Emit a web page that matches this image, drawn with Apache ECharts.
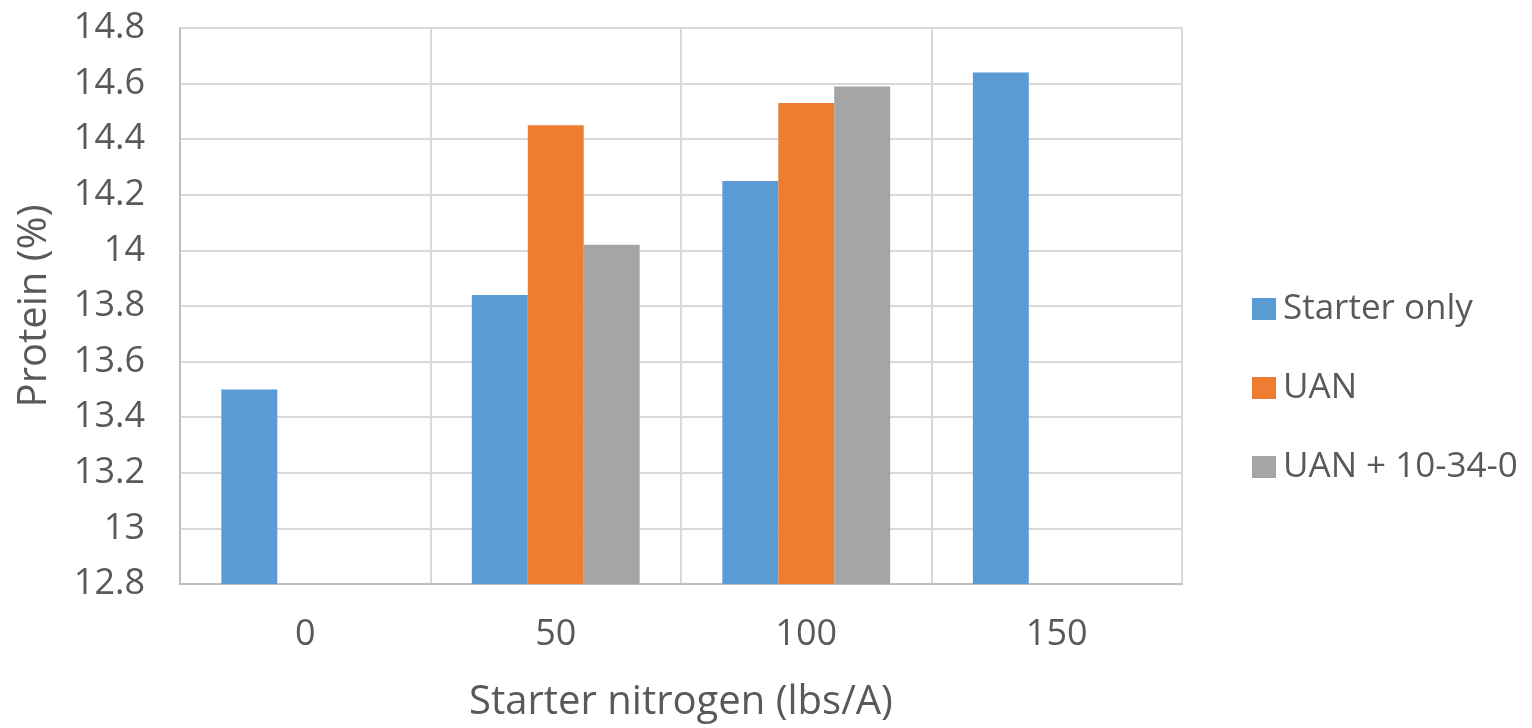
<!DOCTYPE html>
<html>
<head>
<meta charset="utf-8">
<script src="https://cdn.jsdelivr.net/npm/echarts@6/dist/echarts.min.js"></script>
<style>
html,body{margin:0;padding:0;background:#fff;}
#chart{width:1532px;height:728px;}
</style>
</head>
<body>
<div id="chart"></div>
<script>
const categories = ['0', '50', '100', '150'];
const starterOnly = [13.5, 13.84, 14.25, 14.64];
const uan = [null, 14.45, 14.53, null];
const uan1034 = [null, 14.02, 14.59, null];
const seriesNames = ['Starter only', 'UAN', 'UAN + 10-34-0'];
const colors = ['#5b9bd5', '#ed7d31', '#a5a5a5'];

const font = 'Open Sans';
const textColor = '#595959';

const chart = echarts.init(document.getElementById('chart'));
chart.setOption({
  animation: false,
  color: colors,
  grid: { left: 180, right: 350, top: 28, bottom: 142, containLabel: false },
  legend: {
    orient: 'vertical',
    left: 1247,
    top: 286,
    itemWidth: 24,
    itemHeight: 22,
    itemGap: 43,
    icon: 'rect',
    textStyle: { fontFamily: font, fontSize: 35, color: textColor, lineHeight: 36, padding: [0, 0, 0, 2] },
    data: seriesNames
  },
  xAxis: {
    type: 'category',
    data: categories,
    boundaryGap: true,
    name: 'Starter nitrogen (lbs/A)',
    nameLocation: 'middle',
    nameGap: 99,
    nameTextStyle: { fontFamily: font, fontSize: 40, color: textColor },
    axisLine: { show: true, lineStyle: { color: '#bfbfbf', width: 2 } },
    axisTick: { show: false },
    axisLabel: { fontFamily: font, fontSize: 36, color: textColor, margin: 33 },
    splitLine: { show: true, interval: 0, lineStyle: { color: '#d9d9d9', width: 2 } }
  },
  yAxis: {
    type: 'value',
    min: 12.8,
    max: 14.8,
    interval: 0.2,
    name: 'Protein (%)',
    nameLocation: 'middle',
    nameGap: 125,
    nameTextStyle: { fontFamily: font, fontSize: 40, color: textColor },
    axisLine: { show: true, lineStyle: { color: '#bfbfbf', width: 2 } },
    axisTick: { show: false },
    axisLabel: {
      fontFamily: font, fontSize: 36, color: textColor, margin: 35,
      formatter: v => String(Math.round(v * 10) / 10)
    },
    splitLine: { show: true, lineStyle: { color: '#d9d9d9', width: 2 } }
  },
  series: [
    { name: seriesNames[0], type: 'bar', data: starterOnly, barGap: '0%', barCategoryGap: '33%' },
    { name: seriesNames[1], type: 'bar', data: uan, barGap: '0%', barCategoryGap: '33%' },
    { name: seriesNames[2], type: 'bar', data: uan1034, barGap: '0%', barCategoryGap: '33%' }
  ]
});
</script>
</body>
</html>
